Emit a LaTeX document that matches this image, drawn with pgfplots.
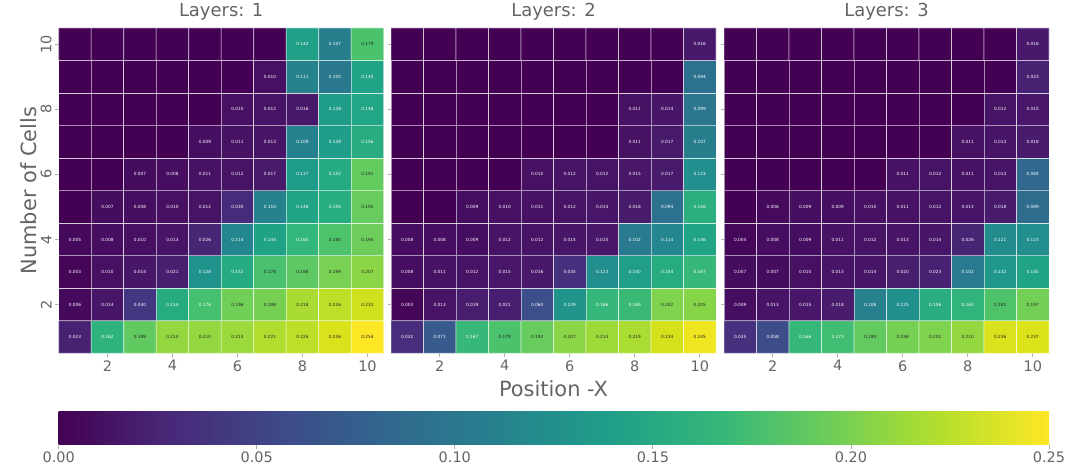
\documentclass[border=0pt]{standalone}
\usepackage{fontspec}
\setmainfont{DejaVu Sans}
\usepackage{pgfplots}
\usepackage{pgfplotstable}
\pgfplotsset{compat=1.18}
\definecolor{txt}{RGB}{100,100,100}
\definecolor{tickc}{RGB}{175,175,175}
\definecolor{darktxt}{RGB}{38,38,38}
\definecolor{v0}{HTML}{440154}
\definecolor{v1}{HTML}{482878}
\definecolor{v2}{HTML}{3E4989}
\definecolor{v3}{HTML}{31688E}
\definecolor{v4}{HTML}{26828E}
\definecolor{v5}{HTML}{1F9E89}
\definecolor{v6}{HTML}{35B779}
\definecolor{v7}{HTML}{6DCD59}
\definecolor{v8}{HTML}{B4DE2C}
\definecolor{v9}{HTML}{FDE725}
\pgfdeclarehorizontalshading{viridisbar}{100bp}{color(0bp)=(v0); color(25bp)=(v0); color(30.556bp)=(v1); color(36.111bp)=(v2); color(41.667bp)=(v3); color(47.222bp)=(v4); color(52.778bp)=(v5); color(58.333bp)=(v6); color(63.889bp)=(v7); color(69.444bp)=(v8); color(75bp)=(v9); color(100bp)=(v9)}

\pgfplotstableread[row sep=\\]{
x y c\\
1 1 0.023\\ 2 1 0.162\\ 3 1 0.189\\ 4 1 0.210\\ 5 1 0.210\\ 6 1 0.213\\ 7 1 0.221\\ 8 1 0.226\\ 9 1 0.236\\ 10 1 0.254\\
1 2 0.006\\ 2 2 0.014\\ 3 2 0.040\\ 4 2 0.154\\ 5 2 0.176\\ 6 2 0.196\\ 7 2 0.198\\ 8 2 0.218\\ 9 2 0.226\\ 10 2 0.232\\
1 3 0.003\\ 2 3 0.010\\ 3 3 0.014\\ 4 3 0.021\\ 5 3 0.128\\ 6 3 0.152\\ 7 3 0.178\\ 8 3 0.188\\ 9 3 0.199\\ 10 3 0.207\\
1 4 0.005\\ 2 4 0.008\\ 3 4 0.010\\ 4 4 0.013\\ 5 4 0.026\\ 6 4 0.114\\ 7 4 0.144\\ 8 4 0.165\\ 9 4 0.180\\ 10 4 0.194\\
1 5 0\\ 2 5 0.007\\ 3 5 0.008\\ 4 5 0.010\\ 5 5 0.012\\ 6 5 0.030\\ 7 5 0.110\\ 8 5 0.146\\ 9 5 0.155\\ 10 5 0.192\\
1 6 0\\ 2 6 0\\ 3 6 0.007\\ 4 6 0.008\\ 5 6 0.011\\ 6 6 0.012\\ 7 6 0.017\\ 8 6 0.137\\ 9 6 0.152\\ 10 6 0.191\\
1 7 0\\ 2 7 0\\ 3 7 0\\ 4 7 0\\ 5 7 0.009\\ 6 7 0.011\\ 7 7 0.013\\ 8 7 0.109\\ 9 7 0.138\\ 10 7 0.156\\
1 8 0\\ 2 8 0\\ 3 8 0\\ 4 8 0\\ 5 8 0\\ 6 8 0.010\\ 7 8 0.012\\ 8 8 0.016\\ 9 8 0.138\\ 10 8 0.148\\
1 9 0\\ 2 9 0\\ 3 9 0\\ 4 9 0\\ 5 9 0\\ 6 9 0\\ 7 9 0.010\\ 8 9 0.111\\ 9 9 0.100\\ 10 9 0.145\\
1 10 0\\ 2 10 0\\ 3 10 0\\ 4 10 0\\ 5 10 0\\ 6 10 0\\ 7 10 0\\ 8 10 0.142\\ 9 10 0.107\\ 10 10 0.179\\
}\dataA

\pgfplotstableread[row sep=\\]{
x y c\\
1 1 0.032\\ 2 1 0.071\\ 3 1 0.167\\ 4 1 0.179\\ 5 1 0.192\\ 6 1 0.207\\ 7 1 0.214\\ 8 1 0.219\\ 9 1 0.234\\ 10 1 0.245\\
1 2 0.003\\ 2 2 0.013\\ 3 2 0.019\\ 4 2 0.021\\ 5 2 0.060\\ 6 2 0.129\\ 7 2 0.166\\ 8 2 0.169\\ 9 2 0.202\\ 10 2 0.205\\
1 3 0.008\\ 2 3 0.011\\ 3 3 0.012\\ 4 3 0.015\\ 5 3 0.016\\ 6 3 0.035\\ 7 3 0.123\\ 8 3 0.140\\ 9 3 0.154\\ 10 3 0.167\\
1 4 0.008\\ 2 4 0.008\\ 3 4 0.009\\ 4 4 0.012\\ 5 4 0.012\\ 6 4 0.014\\ 7 4 0.015\\ 8 4 0.102\\ 9 4 0.114\\ 10 4 0.146\\
1 5 0\\ 2 5 0\\ 3 5 0.009\\ 4 5 0.010\\ 5 5 0.011\\ 6 5 0.012\\ 7 5 0.014\\ 8 5 0.018\\ 9 5 0.094\\ 10 5 0.158\\
1 6 0\\ 2 6 0\\ 3 6 0\\ 4 6 0\\ 5 6 0.010\\ 6 6 0.012\\ 7 6 0.012\\ 8 6 0.015\\ 9 6 0.017\\ 10 6 0.123\\
1 7 0\\ 2 7 0\\ 3 7 0\\ 4 7 0\\ 5 7 0\\ 6 7 0\\ 7 7 0\\ 8 7 0.011\\ 9 7 0.017\\ 10 7 0.107\\
1 8 0\\ 2 8 0\\ 3 8 0\\ 4 8 0\\ 5 8 0\\ 6 8 0\\ 7 8 0\\ 8 8 0.011\\ 9 8 0.014\\ 10 8 0.099\\
1 9 0\\ 2 9 0\\ 3 9 0\\ 4 9 0\\ 5 9 0\\ 6 9 0\\ 7 9 0\\ 8 9 0\\ 9 9 0\\ 10 9 0.094\\
1 10 0\\ 2 10 0\\ 3 10 0\\ 4 10 0\\ 5 10 0\\ 6 10 0\\ 7 10 0\\ 8 10 0\\ 9 10 0\\ 10 10 0.016\\
}\dataB

\pgfplotstableread[row sep=\\]{
x y c\\
1 1 0.035\\ 2 1 0.058\\ 3 1 0.166\\ 4 1 0.173\\ 5 1 0.190\\ 6 1 0.198\\ 7 1 0.202\\ 8 1 0.210\\ 9 1 0.236\\ 10 1 0.237\\
1 2 0.009\\ 2 2 0.013\\ 3 2 0.015\\ 4 2 0.018\\ 5 2 0.108\\ 6 2 0.125\\ 7 2 0.156\\ 8 2 0.163\\ 9 2 0.181\\ 10 2 0.197\\
1 3 0.007\\ 2 3 0.007\\ 3 3 0.010\\ 4 3 0.013\\ 5 3 0.014\\ 6 3 0.020\\ 7 3 0.023\\ 8 3 0.102\\ 9 3 0.132\\ 10 3 0.145\\
1 4 0.004\\ 2 4 0.008\\ 3 4 0.009\\ 4 4 0.011\\ 5 4 0.012\\ 6 4 0.013\\ 7 4 0.014\\ 8 4 0.026\\ 9 4 0.121\\ 10 4 0.123\\
1 5 0\\ 2 5 0.006\\ 3 5 0.009\\ 4 5 0.009\\ 5 5 0.010\\ 6 5 0.011\\ 7 5 0.012\\ 8 5 0.013\\ 9 5 0.018\\ 10 5 0.089\\
1 6 0\\ 2 6 0\\ 3 6 0\\ 4 6 0\\ 5 6 0\\ 6 6 0.011\\ 7 6 0.012\\ 8 6 0.011\\ 9 6 0.013\\ 10 6 0.084\\
1 7 0\\ 2 7 0\\ 3 7 0\\ 4 7 0\\ 5 7 0\\ 6 7 0\\ 7 7 0\\ 8 7 0.011\\ 9 7 0.013\\ 10 7 0.018\\
1 8 0\\ 2 8 0\\ 3 8 0\\ 4 8 0\\ 5 8 0\\ 6 8 0\\ 7 8 0\\ 8 8 0\\ 9 8 0.012\\ 10 8 0.015\\
1 9 0\\ 2 9 0\\ 3 9 0\\ 4 9 0\\ 5 9 0\\ 6 9 0\\ 7 9 0\\ 8 9 0\\ 9 9 0\\ 10 9 0.023\\
1 10 0\\ 2 10 0\\ 3 10 0\\ 4 10 0\\ 5 10 0\\ 6 10 0\\ 7 10 0\\ 8 10 0\\ 9 10 0\\ 10 10 0.016\\
}\dataC

\newcommand{\celllabel}{%
  \ifdim\pgfplotspointmetatransformed pt<2pt\relax
  \else
    \ifdim\pgfplotspointmetatransformed pt<708pt\relax\color{white}\else\color{darktxt}\fi
    \pgfmathprintnumber[fixed,fixed zerofill,precision=3]{\pgfplotspointmeta}%
  \fi}

\pgfplotsset{
  /pgf/number format/assume math mode=true,
  hm/.style={
    anchor=south west,
    width=325bp, height=325.3bp, scale only axis,
    xmin=0.5, xmax=10.5, ymin=0.5, ymax=10.5,
    colormap/viridis, point meta min=0, point meta max=0.25,
    xtick={2,4,6,8,10}, ytick={2,4,6,8,10},
    axis line style={draw=none},
    tick align=outside, major tick length=3.5bp,
    tick style={draw=tickc, line width=0.8bp},
    xtick pos=left, ytick pos=left,
    ticklabel style={font=\fontsize{14.5}{16}\selectfont, text=txt},
    title style={font=\fontsize{18}{20}\selectfont, text=txt, at={(axis description cs:0.5,1)}, anchor=base, yshift=5.5bp},
    label style={font=\fontsize{21}{24}\selectfont, text=txt},
  },
  cells/.style={matrix plot*, mesh/cols=10, point meta=explicit, draw=white, draw opacity=0.55, line width=0.8bp},
  lab/.style={only marks, mark=none, point meta=explicit,
    nodes near coords={\celllabel},
    every node near coord/.append style={anchor=center, inner sep=0pt, font=\fontsize{4.3}{5}\selectfont}},
}

\begin{document}
\begin{tikzpicture}
\path[use as bounding box] (0,0) rectangle (1068bp,468bp);

\begin{axis}[hm, at={(58.7bp,114.7bp)}, title={Layers: 1},
  ylabel={Number of Cells},
  ylabel style={at={(axis description cs:-0.0698,0.5)}, anchor=base},
  yticklabel style={rotate=90, anchor=south},
]
\addplot[cells] table[x=x,y=y,meta=c]{\dataA};
\addplot[lab] table[x=x,y=y,meta=c]{\dataA};
\end{axis}

\begin{axis}[hm, at={(391bp,114.7bp)}, title={Layers: 2}, yticklabels={},
  xlabel={Position -X},
  xlabel style={at={(axis description cs:0.5,-0.1343)}, anchor=base},
]
\addplot[cells] table[x=x,y=y,meta=c]{\dataB};
\addplot[lab] table[x=x,y=y,meta=c]{\dataB};
\end{axis}

\begin{axis}[hm, at={(724bp,114.7bp)}, title={Layers: 3}, yticklabels={}]
\addplot[cells] table[x=x,y=y,meta=c]{\dataC};
\addplot[lab] table[x=x,y=y,meta=c]{\dataC};
\end{axis}

% colour bar (viridis, 0 to 0.25)
\begin{axis}[anchor=south west, at={(58.7bp,23bp)},
  width=990.3bp, height=33.3bp, scale only axis,
  xmin=0, xmax=0.25, ymin=0, ymax=1,
  xtick={0,0.05,0.1,0.15,0.2,0.25}, ytick=\empty,
  xticklabel style={/pgf/number format/fixed, /pgf/number format/fixed zerofill, /pgf/number format/precision=2, font=\fontsize{14.5}{16}\selectfont, text=txt},
  axis line style={draw=none},
  tick align=outside, major tick length=3.5bp,
  tick style={draw=tickc, line width=0.8bp},
  xtick pos=left,
]
\fill[shading=viridisbar] (rel axis cs:0,0) rectangle (rel axis cs:1,1);
\end{axis}
\end{tikzpicture}
\end{document}
